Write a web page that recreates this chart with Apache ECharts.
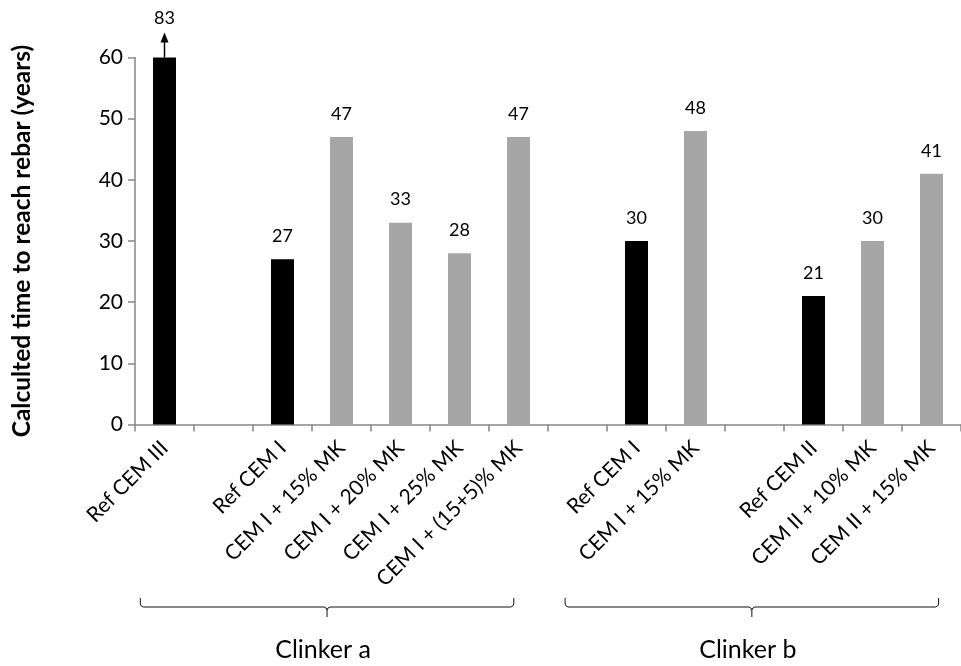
<!DOCTYPE html>
<html>
<head>
<meta charset="utf-8">
<script src="https://cdn.jsdelivr.net/npm/echarts@6/dist/echarts.min.js"></script>
<style>
html,body{margin:0;padding:0;background:#fff;}
#main{width:961px;height:666px;}
</style>
</head>
<body>
<div id="main"></div>
<script>
// ---- data ----
const categories = ['Ref CEM III', '', 'Ref CEM I', 'CEM I + 15% MK', 'CEM I + 20% MK', 'CEM I + 25% MK', 'CEM I + (15+5)% MK', '', 'Ref CEM I', 'CEM I + 15% MK', '', 'Ref CEM II', 'CEM II + 10% MK', 'CEM II + 15% MK'];
const refTimes = [83, null, 27, null, null, null, null, null, 30, null, null, 21, null, null];
const mkTimes  = [null, null, null, 47, 33, 28, 47, null, null, 48, null, null, 30, 41];
const yTicks = [0, 10, 20, 30, 40, 50, 60];
const groups = [
  { name: 'Clinker a', from: 0, to: 6 },
  { name: 'Clinker b', from: 7, to: 13 }
];
const yTitle = 'Calculted time to reach rebar (years)';

// ---- chart ----
const FONT = 'Lato';
const yMax = yTicks[yTicks.length - 1];
function toData(arr) {
  return arr.map(v => {
    if (v === null) return '-';
    if (v > yMax) return { value: yMax, realValue: v, label: { distance: 30 } };
    return { value: v, realValue: v };
  });
}
function labelFmt(p) {
  return p.data && p.data.realValue != null ? String(p.data.realValue) : '';
}
const chart = echarts.init(document.getElementById('main'), null, { renderer: 'canvas' });
const labelStyle = { show: true, position: 'top', distance: 14, color: '#000', fontFamily: FONT, fontSize: 18, formatter: labelFmt };
chart.setOption({
  animation: false,
  backgroundColor: '#fff',
  grid: { left: 135, top: 57.5, width: 832, height: 367, containLabel: false },
  xAxis: {
    type: 'category',
    data: categories,
    axisLine: { lineStyle: { color: '#868686', width: 1.5 } },
    axisTick: { show: true, length: 7, alignWithLabel: false, lineStyle: { color: '#868686', width: 1.5 } },
    axisLabel: { interval: 0, rotate: 45, margin: 20, color: '#000', fontFamily: FONT, fontSize: 21 }
  },
  yAxis: {
    type: 'value',
    min: yTicks[0], max: yMax, interval: yTicks[1] - yTicks[0],
    name: yTitle,
    nameLocation: 'middle',
    nameGap: 100,
    nameTextStyle: { fontFamily: FONT, fontSize: 24.5, fontWeight: 'bold', color: '#000' },
    axisLine: { show: true, lineStyle: { color: '#868686', width: 1.5 } },
    axisTick: { show: true, length: 7, lineStyle: { color: '#868686', width: 1.5 } },
    axisLabel: { margin: 12, color: '#000', fontFamily: FONT, fontSize: 21 },
    splitLine: { show: false }
  },
  series: [
    { name: 'Ref', type: 'bar', data: toData(refTimes), barWidth: 23, barGap: '-100%', itemStyle: { color: '#000000' }, label: labelStyle },
    { name: 'MK', type: 'bar', data: toData(mkTimes), barWidth: 23, barGap: '-100%', itemStyle: { color: '#a6a6a6' }, label: labelStyle }
  ]
});

function px(idx, val) { return chart.convertToPixel({ gridIndex: 0 }, [idx, val]); }
const graphics = [];
// arrow on capped bars
refTimes.forEach((v, i) => {
  if (v !== null && v > yMax) {
    const top = px(i, yMax);
    graphics.push({ type: 'line', shape: { x1: top[0], y1: top[1], x2: top[0], y2: top[1] - 17 }, style: { stroke: '#000', lineWidth: 1.5 } });
    graphics.push({ type: 'polygon', shape: { points: [[top[0] - 4, top[1] - 15], [top[0] + 4, top[1] - 15], [top[0], top[1] - 25]] }, style: { fill: '#000' } });
  }
});
// group brackets
const bandW = px(1, 0)[0] - px(0, 0)[0];
const bracketOffsets = [[-0.41, -0.08], [-0.21, 0.12]];
groups.forEach((g, k) => {
  const x1 = px(g.from, 0)[0] + bracketOffsets[k][0] * bandW;
  const x2 = px(g.to, 0)[0] + bracketOffsets[k][1] * bandW;
  const mid = (x1 + x2) / 2;
  const yb = 607, yt = 598, yn = 617;
  const pts = [
    [x1, yt], [x1, yb - 3], [x1 + 1, yb - 1], [x1 + 3, yb],
    [mid - 3, yb], [mid - 1, yb + 1], [mid, yb + 3], [mid, yn]
  ];
  const pts2 = [
    [mid, yb + 3], [mid + 1, yb + 1], [mid + 3, yb],
    [x2 - 3, yb], [x2 - 1, yb - 1], [x2, yb - 3], [x2, yt]
  ];
  graphics.push({ type: 'polyline', shape: { points: pts }, style: { stroke: '#111', lineWidth: 1, fill: null } });
  graphics.push({ type: 'polyline', shape: { points: pts2 }, style: { stroke: '#111', lineWidth: 1, fill: null } });
  graphics.push({ type: 'text', x: mid - 4, y: 650, style: { text: g.name, fontFamily: FONT, fontSize: 25, fill: '#000', align: 'center', verticalAlign: 'middle' } });
});
chart.setOption({ graphic: graphics });
</script>
</body>
</html>
